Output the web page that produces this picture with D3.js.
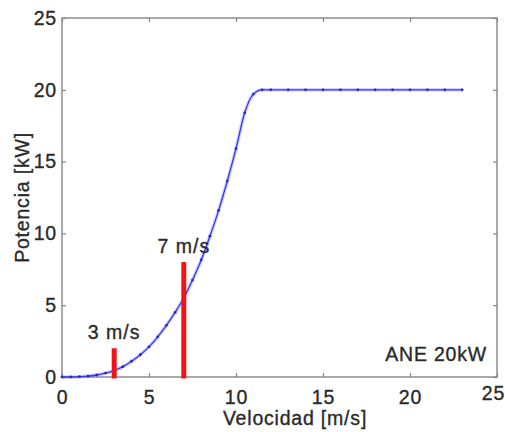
<!DOCTYPE html>
<html>
<head>
<meta charset="utf-8">
<script src="https://cdn.jsdelivr.net/npm/d3@7"></script>
<style>
  html, body { margin: 0; padding: 0; background: #fff; }
  svg { display: block; }
  text { font-family: "Liberation Sans", Arial, Helvetica, sans-serif; fill: #2a2a2a;
         stroke: #2a2a2a; stroke-width: 0.35px; }
</style>
</head>
<body>
<svg id="chart" width="505" height="432"></svg>
<script>
// Power curve of the ANE 20kW turbine: wind speed (m/s) vs. output power (kW)
const speed = [0, 0.5, 1, 1.5, 2, 2.5, 3, 3.5, 4, 4.5, 5, 5.5, 6, 6.5, 7, 7.5, 8, 8.5, 9, 9.5, 10, 10.5, 11, 11.5,
               12, 13, 14, 15, 16, 17, 18, 19, 20, 21, 22, 23];
const power = [0, 0, 0.02, 0.06, 0.14, 0.27, 0.45, 0.72, 1.1, 1.55, 2.1, 2.8, 3.6, 4.5, 5.5, 6.75, 8.15, 9.8, 11.6, 13.65, 15.9, 18.4, 19.7, 20.0,
               20, 20, 20, 20, 20, 20, 20, 20, 20, 20, 20, 20];

// Reference wind speeds highlighted with red bars
const markSpeed = [3, 7];
const markHeight = [2, 8];
const markLabel = ["3 m/s", "7 m/s"];

const xTicks = [0, 5, 10, 15, 20, 25];
const yTicks = [0, 5, 10, 15, 20, 25];
const xTitle = "Velocidad [m/s]";
const yTitle = "Potencia [kW]";
const note = "ANE 20kW";

const svg = d3.select("#chart");
const L = 62, R = 497, T = 18, B = 377;

const x = d3.scaleLinear().domain([0, 25]).range([L, R]);
const y = d3.scaleLinear().domain([0, 25]).range([B, T]);

const frameColor = "#858585";
const fontSize = "19.5px";
const spacing = "0.8px";

// Axes with inward ticks on all four sides
function styleAxis(g) {
  g.select(".domain").remove();
  g.selectAll(".tick line").attr("stroke", frameColor).attr("stroke-width", 1.2);
  g.selectAll(".tick text").style("font-size", fontSize).attr("fill", "#2a2a2a")
    .style("letter-spacing", spacing);
}

const xAxis = svg.append("g").attr("transform", `translate(0,${B})`)
  .call(d3.axisBottom(x).tickValues(xTicks).tickFormat(d3.format("d")).tickSizeInner(-4).tickSizeOuter(0).tickPadding(13))
  .call(styleAxis);
// the last x label sits a little higher and to the left
xAxis.selectAll(".tick text").filter(d => d === 25).attr("dx", "-4").attr("y", 9);

svg.append("g").attr("transform", `translate(0,${T})`)
  .call(d3.axisTop(x).tickValues(xTicks).tickFormat("").tickSizeInner(-4).tickSizeOuter(0))
  .call(styleAxis);

svg.append("g").attr("transform", `translate(${L},0)`)
  .call(d3.axisLeft(y).tickValues(yTicks).tickFormat(d3.format("d")).tickSizeInner(-4).tickSizeOuter(0).tickPadding(5))
  .call(styleAxis);

svg.append("g").attr("transform", `translate(${R},0)`)
  .call(d3.axisRight(y).tickValues(yTicks).tickFormat("").tickSizeInner(-4).tickSizeOuter(0))
  .call(styleAxis);

// Frame
svg.append("rect")
  .attr("x", L).attr("y", T).attr("width", R - L).attr("height", B - T)
  .attr("fill", "none").attr("stroke", frameColor).attr("stroke-width", 1.4);

// Power curve
const pts = speed.map((s, i) => [s, power[i]]);
const line = d3.line().x(d => x(d[0])).y(d => y(d[1])).curve(d3.curveMonotoneX);

svg.append("path").datum(pts).attr("d", line)
  .attr("fill", "none").attr("stroke", "#7a7aff").attr("stroke-width", 3.6).attr("opacity", 0.35);
svg.append("path").datum(pts).attr("d", line)
  .attr("fill", "none").attr("stroke", "#3434ff").attr("stroke-width", 1.3);

svg.append("g").selectAll("circle").data(pts).join("circle")
  .attr("cx", d => x(d[0])).attr("cy", d => y(d[1])).attr("r", 1.4)
  .attr("fill", "#2828c8");

// Red markers with labels
svg.append("g").selectAll("line").data(markSpeed).join("line")
  .attr("x1", d => x(d)).attr("x2", d => x(d))
  .attr("y1", y(0) + 1.5).attr("y2", (d, i) => y(markHeight[i]))
  .attr("stroke", "#f01418").attr("stroke-width", 5);

svg.append("g").selectAll("text").data(markSpeed).join("text")
  .attr("x", d => x(d)).attr("y", (d, i) => y(markHeight[i]) - 9)
  .attr("text-anchor", "middle")
  .style("font-size", fontSize).style("letter-spacing", "1px")
  .text((d, i) => markLabel[i]);

// Model annotation
svg.append("text").attr("x", 487).attr("y", 361).attr("text-anchor", "end")
  .style("font-size", fontSize).style("letter-spacing", spacing).text(note);

// Axis titles
svg.append("text").attr("x", 295).attr("y", 425).attr("text-anchor", "middle")
  .style("font-size", fontSize).style("letter-spacing", spacing).text(xTitle);

svg.append("text").attr("transform", `translate(29,${(T + B) / 2}) rotate(-90)`)
  .attr("text-anchor", "middle")
  .style("font-size", fontSize).style("letter-spacing", spacing).text(yTitle);
</script>
</body>
</html>
